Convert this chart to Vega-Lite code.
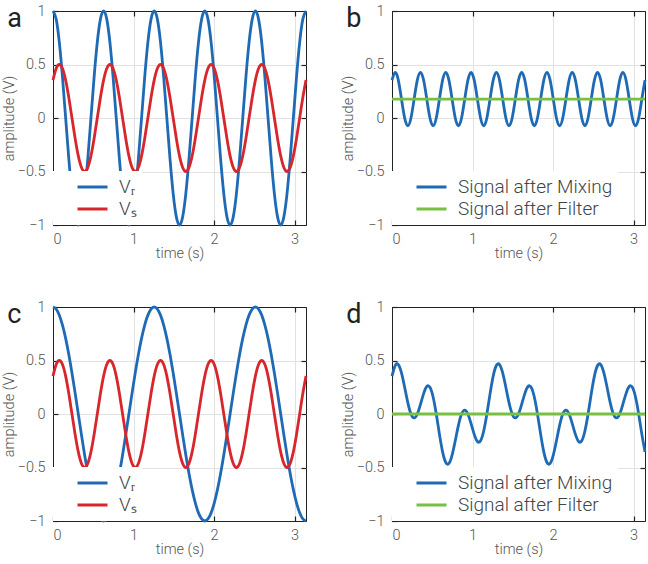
{
"$schema": "https://vega.github.io/schema/vega-lite/v6.json",
"background": "white",
"padding": {"left": 0, "top": 2, "right": 0, "bottom": 0},
"spacing": 37,
"datasets": {
"w": [
{"t":0,"a":1,"s":0.354,"b":0.354,"c":1,"d":0.354},
{"t":0.0393,"a":0.924,"s":0.462,"b":0.427,"c":0.981,"d":0.453},
{"t":0.0785,"a":0.707,"s":0.5,"b":0.354,"c":0.924,"d":0.462},
{"t":0.1178,"a":0.383,"s":0.462,"b":0.177,"c":0.831,"d":0.384},
{"t":0.1571,"a":0,"s":0.354,"b":0,"c":0.707,"d":0.25},
{"t":0.1963,"a":-0.383,"s":0.191,"b":-0.073,"c":0.556,"d":0.106},
{"t":0.2356,"a":-0.707,"s":0,"b":0,"c":0.383,"d":0},
{"t":0.2749,"a":-0.924,"s":-0.191,"b":0.177,"c":0.195,"d":-0.037},
{"t":0.3142,"a":-1,"s":-0.354,"b":0.354,"c":0,"d":0},
{"t":0.3534,"a":-0.924,"s":-0.462,"b":0.427,"c":-0.195,"d":0.09},
{"t":0.3927,"a":-0.707,"s":-0.5,"b":0.354,"c":-0.383,"d":0.191},
{"t":0.432,"a":-0.383,"s":-0.462,"b":0.177,"c":-0.556,"d":0.257},
{"t":0.4712,"a":0,"s":-0.354,"b":0,"c":-0.707,"d":0.25},
{"t":0.5105,"a":0.383,"s":-0.191,"b":-0.073,"c":-0.831,"d":0.159},
{"t":0.5498,"a":0.707,"s":0,"b":0,"c":-0.924,"d":0},
{"t":0.589,"a":0.924,"s":0.191,"b":0.177,"c":-0.981,"d":-0.188},
{"t":0.6283,"a":1,"s":0.354,"b":0.354,"c":-1,"d":-0.354},
{"t":0.6676,"a":0.924,"s":0.462,"b":0.427,"c":-0.981,"d":-0.453},
{"t":0.7069,"a":0.707,"s":0.5,"b":0.354,"c":-0.924,"d":-0.462},
{"t":0.7461,"a":0.383,"s":0.462,"b":0.177,"c":-0.831,"d":-0.384},
{"t":0.7854,"a":0,"s":0.354,"b":0,"c":-0.707,"d":-0.25},
{"t":0.8247,"a":-0.383,"s":0.191,"b":-0.073,"c":-0.556,"d":-0.106},
{"t":0.8639,"a":-0.707,"s":0,"b":0,"c":-0.383,"d":0},
{"t":0.9032,"a":-0.924,"s":-0.191,"b":0.177,"c":-0.195,"d":0.037},
{"t":0.9425,"a":-1,"s":-0.354,"b":0.354,"c":0,"d":0},
{"t":0.9817,"a":-0.924,"s":-0.462,"b":0.427,"c":0.195,"d":-0.09},
{"t":1.021,"a":-0.707,"s":-0.5,"b":0.354,"c":0.383,"d":-0.191},
{"t":1.0603,"a":-0.383,"s":-0.462,"b":0.177,"c":0.556,"d":-0.257},
{"t":1.0996,"a":0,"s":-0.354,"b":0,"c":0.707,"d":-0.25},
{"t":1.1388,"a":0.383,"s":-0.191,"b":-0.073,"c":0.831,"d":-0.159},
{"t":1.1781,"a":0.707,"s":0,"b":0,"c":0.924,"d":0},
{"t":1.2174,"a":0.924,"s":0.191,"b":0.177,"c":0.981,"d":0.188},
{"t":1.2566,"a":1,"s":0.354,"b":0.354,"c":1,"d":0.354},
{"t":1.2959,"a":0.924,"s":0.462,"b":0.427,"c":0.981,"d":0.453},
{"t":1.3352,"a":0.707,"s":0.5,"b":0.354,"c":0.924,"d":0.462},
{"t":1.3744,"a":0.383,"s":0.462,"b":0.177,"c":0.831,"d":0.384},
{"t":1.4137,"a":0,"s":0.354,"b":0,"c":0.707,"d":0.25},
{"t":1.453,"a":-0.383,"s":0.191,"b":-0.073,"c":0.556,"d":0.106},
{"t":1.4923,"a":-0.707,"s":0,"b":0,"c":0.383,"d":0},
{"t":1.5315,"a":-0.924,"s":-0.191,"b":0.177,"c":0.195,"d":-0.037},
{"t":1.5708,"a":-1,"s":-0.354,"b":0.354,"c":0,"d":0},
{"t":1.6101,"a":-0.924,"s":-0.462,"b":0.427,"c":-0.195,"d":0.09},
{"t":1.6493,"a":-0.707,"s":-0.5,"b":0.354,"c":-0.383,"d":0.191},
{"t":1.6886,"a":-0.383,"s":-0.462,"b":0.177,"c":-0.556,"d":0.257},
{"t":1.7279,"a":0,"s":-0.354,"b":0,"c":-0.707,"d":0.25},
{"t":1.7671,"a":0.383,"s":-0.191,"b":-0.073,"c":-0.831,"d":0.159},
{"t":1.8064,"a":0.707,"s":0,"b":0,"c":-0.924,"d":0},
{"t":1.8457,"a":0.924,"s":0.191,"b":0.177,"c":-0.981,"d":-0.188},
{"t":1.885,"a":1,"s":0.354,"b":0.354,"c":-1,"d":-0.354},
{"t":1.9242,"a":0.924,"s":0.462,"b":0.427,"c":-0.981,"d":-0.453},
{"t":1.9635,"a":0.707,"s":0.5,"b":0.354,"c":-0.924,"d":-0.462},
{"t":2.0028,"a":0.383,"s":0.462,"b":0.177,"c":-0.831,"d":-0.384},
{"t":2.042,"a":0,"s":0.354,"b":0,"c":-0.707,"d":-0.25},
{"t":2.0813,"a":-0.383,"s":0.191,"b":-0.073,"c":-0.556,"d":-0.106},
{"t":2.1206,"a":-0.707,"s":0,"b":0,"c":-0.383,"d":0},
{"t":2.1598,"a":-0.924,"s":-0.191,"b":0.177,"c":-0.195,"d":0.037},
{"t":2.1991,"a":-1,"s":-0.354,"b":0.354,"c":0,"d":0},
{"t":2.2384,"a":-0.924,"s":-0.462,"b":0.427,"c":0.195,"d":-0.09},
{"t":2.2777,"a":-0.707,"s":-0.5,"b":0.354,"c":0.383,"d":-0.191},
{"t":2.3169,"a":-0.383,"s":-0.462,"b":0.177,"c":0.556,"d":-0.257},
{"t":2.3562,"a":0,"s":-0.354,"b":0,"c":0.707,"d":-0.25},
{"t":2.3955,"a":0.383,"s":-0.191,"b":-0.073,"c":0.831,"d":-0.159},
{"t":2.4347,"a":0.707,"s":0,"b":0,"c":0.924,"d":0},
{"t":2.474,"a":0.924,"s":0.191,"b":0.177,"c":0.981,"d":0.188},
{"t":2.5133,"a":1,"s":0.354,"b":0.354,"c":1,"d":0.354},
{"t":2.5525,"a":0.924,"s":0.462,"b":0.427,"c":0.981,"d":0.453},
{"t":2.5918,"a":0.707,"s":0.5,"b":0.354,"c":0.924,"d":0.462},
{"t":2.6311,"a":0.383,"s":0.462,"b":0.177,"c":0.831,"d":0.384},
{"t":2.6704,"a":0,"s":0.354,"b":0,"c":0.707,"d":0.25},
{"t":2.7096,"a":-0.383,"s":0.191,"b":-0.073,"c":0.556,"d":0.106},
{"t":2.7489,"a":-0.707,"s":0,"b":0,"c":0.383,"d":0},
{"t":2.7882,"a":-0.924,"s":-0.191,"b":0.177,"c":0.195,"d":-0.037},
{"t":2.8274,"a":-1,"s":-0.354,"b":0.354,"c":0,"d":0},
{"t":2.8667,"a":-0.924,"s":-0.462,"b":0.427,"c":-0.195,"d":0.09},
{"t":2.906,"a":-0.707,"s":-0.5,"b":0.354,"c":-0.383,"d":0.191},
{"t":2.9452,"a":-0.383,"s":-0.462,"b":0.177,"c":-0.556,"d":0.257},
{"t":2.9845,"a":0,"s":-0.354,"b":0,"c":-0.707,"d":0.25},
{"t":3.0238,"a":0.383,"s":-0.191,"b":-0.073,"c":-0.831,"d":0.159},
{"t":3.0631,"a":0.707,"s":0,"b":0,"c":-0.924,"d":0},
{"t":3.1023,"a":0.924,"s":0.191,"b":0.177,"c":-0.981,"d":-0.188},
{"t":3.1416,"a":1,"s":0.354,"b":0.354,"c":-1,"d":-0.354}
],
"f": [
{"t":0,"fb":0.1768,"fd":0},
{"t":3.1416,"fb":0.1768,"fd":0}
]
},
"vconcat": [
{"hconcat": [
{"title": "a", "width": 253, "height": 214, "data": {"name": "w"},
 "resolve": {"axis": {"x": "independent", "y": "independent"}},
 "layer": [
  {"mark": "line", "encoding": {
    "x": {"field": "t", "type": "quantitative", "scale": {"domain": [0, 3.1416], "nice": false, "zero": false}, "axis": {"values": [0, 1, 2, 3], "title": "time (s)"}},
    "y": {"field": "a", "type": "quantitative", "scale": {"domain": [-1, 1], "nice": false}, "axis": {"values": [-1, -0.5, 0, 0.5, 1], "format": "~g", "title": "amplitude (V)"}},
    "color": {"datum": "Vᵣ", "type": "nominal", "scale": {"domain": ["Vᵣ", "Vₛ"], "range": ["#1f6ab5", "#d7262c"]}, "legend": {"title": null}}}},
  {"mark": "line", "encoding": {
    "x": {"field": "t", "type": "quantitative", "axis": null},
    "y": {"field": "s", "type": "quantitative", "axis": null},
    "color": {"datum": "Vₛ", "type": "nominal"}}},
  {"mark": {"type": "line", "opacity": 0}, "encoding": {
    "x": {"field": "t", "type": "quantitative", "axis": {"orient": "top", "values": [1, 2, 3], "labels": false, "title": null, "grid": false}},
    "y": {"field": "a", "type": "quantitative", "axis": {"orient": "right", "values": [-0.5, 0, 0.5], "labels": false, "title": null, "grid": false}}}}
 ]},
{"title": "b", "width": 253, "height": 214,
 "resolve": {"axis": {"x": "independent", "y": "independent"}},
 "layer": [
  {"data": {"name": "w"}, "mark": "line", "encoding": {
    "x": {"field": "t", "type": "quantitative", "scale": {"domain": [0, 3.1416], "nice": false, "zero": false}, "axis": {"values": [0, 1, 2, 3], "title": "time (s)"}},
    "y": {"field": "b", "type": "quantitative", "scale": {"domain": [-1, 1], "nice": false}, "axis": {"values": [-1, -0.5, 0, 0.5, 1], "format": "~g", "title": "amplitude (V)"}},
    "color": {"datum": "Signal after Mixing", "type": "nominal", "scale": {"domain": ["Signal after Mixing", "Signal after Filter"], "range": ["#1f6ab5", "#77c043"]}, "legend": {"title": null}}}},
  {"data": {"name": "f"}, "mark": {"type": "line", "interpolate": "linear"}, "encoding": {
    "x": {"field": "t", "type": "quantitative", "axis": null},
    "y": {"field": "fb", "type": "quantitative", "axis": null},
    "color": {"datum": "Signal after Filter", "type": "nominal"}}},
  {"data": {"name": "w"}, "mark": {"type": "line", "opacity": 0}, "encoding": {
    "x": {"field": "t", "type": "quantitative", "axis": {"orient": "top", "values": [1, 2, 3], "labels": false, "title": null, "grid": false}},
    "y": {"field": "b", "type": "quantitative", "axis": {"orient": "right", "values": [-0.5, 0, 0.5], "labels": false, "title": null, "grid": false}}}}
 ]}
], "spacing": 26, "resolve": {"scale": {"color": "independent"}, "legend": {"color": "independent"}}},
{"hconcat": [
{"title": "c", "width": 253, "height": 214, "data": {"name": "w"},
 "resolve": {"axis": {"x": "independent", "y": "independent"}},
 "layer": [
  {"mark": "line", "encoding": {
    "x": {"field": "t", "type": "quantitative", "scale": {"domain": [0, 3.1416], "nice": false, "zero": false}, "axis": {"values": [0, 1, 2, 3], "title": "time (s)"}},
    "y": {"field": "c", "type": "quantitative", "scale": {"domain": [-1, 1], "nice": false}, "axis": {"values": [-1, -0.5, 0, 0.5, 1], "format": "~g", "title": "amplitude (V)"}},
    "color": {"datum": "Vᵣ", "type": "nominal", "scale": {"domain": ["Vᵣ", "Vₛ"], "range": ["#1f6ab5", "#d7262c"]}, "legend": {"title": null}}}},
  {"mark": "line", "encoding": {
    "x": {"field": "t", "type": "quantitative", "axis": null},
    "y": {"field": "s", "type": "quantitative", "axis": null},
    "color": {"datum": "Vₛ", "type": "nominal"}}},
  {"mark": {"type": "line", "opacity": 0}, "encoding": {
    "x": {"field": "t", "type": "quantitative", "axis": {"orient": "top", "values": [1, 2, 3], "labels": false, "title": null, "grid": false}},
    "y": {"field": "c", "type": "quantitative", "axis": {"orient": "right", "values": [-0.5, 0, 0.5], "labels": false, "title": null, "grid": false}}}}
 ]},
{"title": "d", "width": 253, "height": 214,
 "resolve": {"axis": {"x": "independent", "y": "independent"}},
 "layer": [
  {"data": {"name": "w"}, "mark": "line", "encoding": {
    "x": {"field": "t", "type": "quantitative", "scale": {"domain": [0, 3.1416], "nice": false, "zero": false}, "axis": {"values": [0, 1, 2, 3], "title": "time (s)"}},
    "y": {"field": "d", "type": "quantitative", "scale": {"domain": [-1, 1], "nice": false}, "axis": {"values": [-1, -0.5, 0, 0.5, 1], "format": "~g", "title": "amplitude (V)"}},
    "color": {"datum": "Signal after Mixing", "type": "nominal", "scale": {"domain": ["Signal after Mixing", "Signal after Filter"], "range": ["#1f6ab5", "#77c043"]}, "legend": {"title": null}}}},
  {"data": {"name": "f"}, "mark": {"type": "line", "interpolate": "linear"}, "encoding": {
    "x": {"field": "t", "type": "quantitative", "axis": null},
    "y": {"field": "fd", "type": "quantitative", "axis": null},
    "color": {"datum": "Signal after Filter", "type": "nominal"}}},
  {"data": {"name": "w"}, "mark": {"type": "line", "opacity": 0}, "encoding": {
    "x": {"field": "t", "type": "quantitative", "axis": {"orient": "top", "values": [1, 2, 3], "labels": false, "title": null, "grid": false}},
    "y": {"field": "d", "type": "quantitative", "axis": {"orient": "right", "values": [-0.5, 0, 0.5], "labels": false, "title": null, "grid": false}}}}
 ]}
], "spacing": 26, "resolve": {"scale": {"color": "independent"}, "legend": {"color": "independent"}}}
],
"resolve": {"scale": {"color": "independent"}, "legend": {"color": "independent"}},
"config": {
 "font": "Roboto",
 "view": {"stroke": "#222", "strokeWidth": 1},
 "line": {"strokeWidth": 2.8, "interpolate": "natural", "clip": true},
 "axis": {"domain": false, "grid": true, "gridWidth": 1, "tickColor": "#222", "tickSize": -5, "tickWidth": 1.2, "labelFont": "Roboto", "labelFontSize": 14.5, "labelFontWeight": 300, "labelColor": "#555", "titleFont": "Roboto", "titleFontSize": 14.5, "titleFontWeight": 300, "titleColor": "#555"},
 "axisX": {"labelPadding": 12, "titlePadding": 1, "gridColor": {"condition": {"test": "datum.value == 0", "value": "#222"}, "value": "#e2e2e2"}},
 "axisY": {"labelPadding": 13, "titlePadding": 1, "gridColor": {"condition": {"test": "abs(datum.value) == 1", "value": "#222"}, "value": "#e2e2e2"}},
 "legend": {"orient": "bottom-left", "offset": 0, "fillColor": "white", "padding": 5, "symbolType": "stroke", "symbolStrokeWidth": 3, "symbolSize": 900, "symbolOffset": 18, "labelFont": "Roboto", "labelFontSize": 19, "labelFontWeight": 300, "labelColor": "#444", "labelOffset": 10, "labelLimit": 400, "clipHeight": 22, "rowPadding": 0, "zindex": 1},
 "title": {"fontSize": 27, "fontWeight": "normal", "color": "#222", "anchor": "start", "frame": "bounds", "offset": -30, "dx": 6}
}
}
